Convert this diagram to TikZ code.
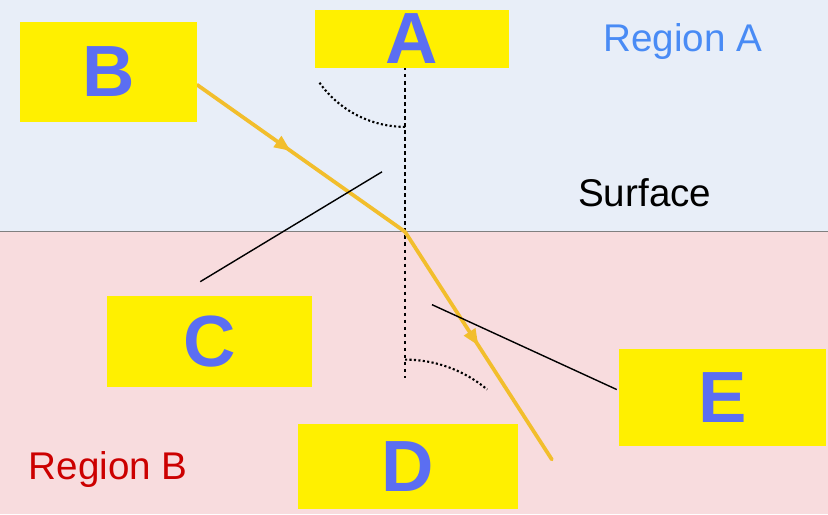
\documentclass[tikz,border=0pt]{standalone}
\usepackage{fontspec}
\setmainfont{Liberation Sans}
\usetikzlibrary{decorations.markings,arrows.meta}
\definecolor{skyA}{HTML}{E8EEF8}
\definecolor{pinkB}{HTML}{F8DCDE}
\definecolor{rayY}{HTML}{F2BE2C}
\definecolor{tagY}{HTML}{FFF000}
\definecolor{tagB}{HTML}{5B6EF2}
\begin{document}
\begin{tikzpicture}[
      x=0.03cm, y=-0.03cm,
      tag/.style={fill=tagY,draw=none,text=tagB,font=\fontsize{62}{62}\selectfont\bfseries},
      ray/.style={rayY,line width=3.2pt,line cap=round},
      pointer/.style={black,line width=1.2pt},
      arrow mark/.style={postaction={decorate,decoration={markings,
          mark=at position #1 with {\arrow[rayY]{Triangle[length=14pt,width=11pt]}}}}}
      ]
      % regions
      \fill [skyA] (0,0) rectangle (828,232);
      \fill [pinkB] (0,232) rectangle (828,515);
      \draw [gray,line width=0.8pt] (0,232) -- (828,232);
      \useasboundingbox (0,0) rectangle (828,515);
      % region labels
      \node [text=tagB!80!cyan,font=\fontsize{33}{33}\selectfont] (regA) at (683,42) {Region A};
      \node [font=\fontsize{33}{33}\selectfont] (surf) at (645,193) {Surface};
      \node [text=red!80!black,font=\fontsize{33}{33}\selectfont] (regB) at (108,470) {Region B};
      % normal and angles
      \coordinate (top) at (405,60);
      \coordinate (bot) at (405,378);
      \coordinate (hit) at (405,232);
      \draw [dashed,line width=1.2pt] (top) -- (bot);
      \draw [dotted,line width=1.8pt] (405,127) arc[start angle=90,end angle=145,radius=105];
      \draw [dotted,line width=1.8pt] (405,360) arc[start angle=-90,end angle=-50,radius=128];
      % ray
      \coordinate (start) at (197,85);
      \coordinate (finish) at (552,460);
      \draw [ray,arrow mark=0.45] (start) -- (hit);
      \draw [ray,arrow mark=0.5] (hit) -- (finish);
      % pointers
      \coordinate (cTip) at (382,172);
      \coordinate (eTip) at (432,305);
      \draw [pointer] (200,282) -- (cTip);
      \draw [pointer] (eTip) -- (617,390);
      % tags
      \node [tag,minimum width=5.85cm,minimum height=1.62cm] (A) at (412,39) {A};
      \node [tag,minimum width=5.31cm,minimum height=3cm] (B) at (108,72) {B};
      \node [tag,minimum width=6.15cm,minimum height=2.73cm] (C) at (209,342) {C};
      \node [tag,minimum width=6.6cm,minimum height=2.55cm] (D) at (408,467) {D};
      \node [tag,minimum width=6.21cm,minimum height=2.91cm] (E) at (723,398) {E};
\end{tikzpicture}
\end{document}
